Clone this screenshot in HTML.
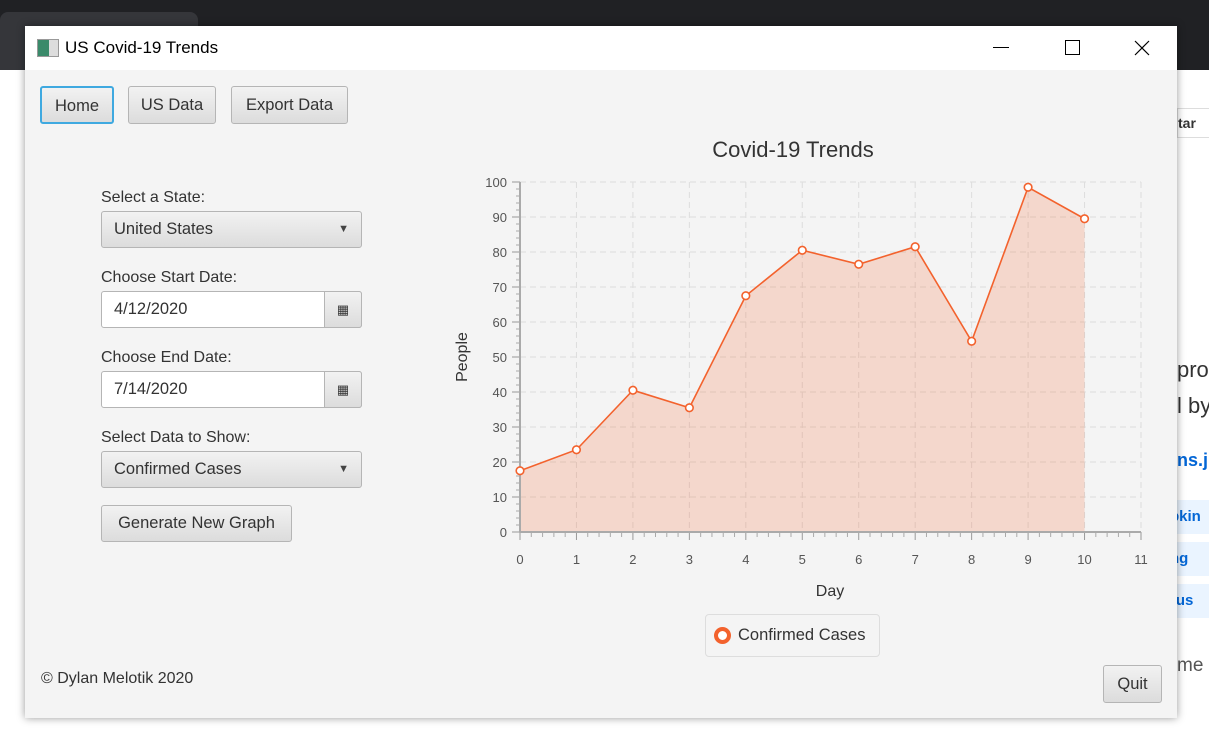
<!DOCTYPE html>
<html><head><meta charset="utf-8"><style>
body{margin:0;width:1209px;height:747px;overflow:hidden;position:relative;background:#fff;font-family:"Liberation Sans",sans-serif;}
.a{position:absolute}
.btn{position:absolute;box-sizing:border-box;border:1px solid #b5b5b5;border-radius:3px;background:linear-gradient(#f2f2f2,#dcdcdc);font-size:16.5px;color:#333;text-align:center;}
.lbl{position:absolute;font-size:16px;color:#333}
.field{position:absolute;box-sizing:border-box;border:1px solid #b5b5b5;border-radius:3px;background:#fff;font-size:16.5px;color:#333}
</style></head><body>
<div class="a" style="left:0;top:0;width:1209px;height:70px;background:#202124"></div>
<div class="a" style="left:0;top:12px;width:198px;height:58px;background:#35363a;border-radius:8px 8px 0 0"></div>
<div class="a" style="left:0;top:70px;width:1209px;height:677px;background:#fff"></div>
<div class="a" style="left:1177px;top:108px;width:32px;height:28px;border:1px solid #ddd;font-size:14px;font-weight:bold;line-height:28px;color:#333">tar</div>
<div class="a" style="left:1177px;top:352px;font-size:22px;color:#333;line-height:36px">pror<br>l by</div>
<div class="a" style="left:1177px;top:450px;font-size:18px;font-weight:bold;color:#0366d6">ns.jl</div>
<div class="a" style="left:1170px;top:500px;width:39px;height:34px;background:#eaf4ff;color:#0366d6;font-size:15px;font-weight:bold;line-height:34px">pkin</div>
<div class="a" style="left:1170px;top:542px;width:39px;height:34px;background:#eaf4ff;color:#0366d6;font-size:15px;font-weight:bold;line-height:34px">ng</div>
<div class="a" style="left:1170px;top:584px;width:39px;height:34px;background:#eaf4ff;color:#0366d6;font-size:15px;font-weight:bold;line-height:34px">rus</div>
<div class="a" style="left:1177px;top:655px;font-size:19px;color:#555">me</div>

<div class="a" style="left:25px;top:26px;width:1152px;height:692px;background:#f4f4f4;box-shadow:0 0 8px rgba(0,0,0,.4)">
 <div class="a" style="left:0;top:0;width:1152px;height:44px;background:#fff">
  <div class="a" style="left:12px;top:13px;width:20px;height:16px;border:1px solid #999;background:linear-gradient(90deg,#3a8a6a 55%,#ddd 55%)"></div>
  <div class="a" style="left:40px;top:12px;font-size:17px;color:#000">US Covid-19 Trends</div>
  <div class="a" style="left:968px;top:21px;width:16px;height:1px;background:#000"></div>
  <div class="a" style="left:1040px;top:14px;width:13px;height:13px;border:1px solid #000"></div>
  <svg class="a" style="left:1109px;top:14px" width="16" height="16"><path d="M1 1L15 15M15 1L1 15" stroke="#000" stroke-width="1.2"/></svg>
 </div>
</div>
<div class="btn" style="left:40px;top:86px;width:74px;height:38px;line-height:36px;border:2px solid #3fa9e0">Home</div>
<div class="btn" style="left:128px;top:86px;width:88px;height:38px;line-height:36px">US Data</div>
<div class="btn" style="left:231px;top:86px;width:117px;height:38px;line-height:36px">Export Data</div>

<div class="lbl" style="left:101px;top:189px">Select a State:</div>
<div class="btn" style="left:101px;top:211px;width:261px;height:37px;line-height:35px;text-align:left;padding-left:12px">United States<span style="position:absolute;right:12px;top:0;font-size:11px;color:#444">▼</span></div>
<div class="lbl" style="left:101px;top:269px">Choose Start Date:</div>
<div class="field" style="left:101px;top:291px;width:261px;height:37px;line-height:35px;padding-left:12px">4/12/2020<div class="btn" style="right:-1px;top:-1px;width:38px;height:37px;line-height:35px;font-size:13px;border-radius:0 3px 3px 0">▦</div></div>
<div class="lbl" style="left:101px;top:349px">Choose End Date:</div>
<div class="field" style="left:101px;top:371px;width:261px;height:37px;line-height:35px;padding-left:12px">7/14/2020<div class="btn" style="right:-1px;top:-1px;width:38px;height:37px;line-height:35px;font-size:13px;border-radius:0 3px 3px 0">▦</div></div>
<div class="lbl" style="left:101px;top:429px">Select Data to Show:</div>
<div class="btn" style="left:101px;top:451px;width:261px;height:37px;line-height:35px;text-align:left;padding-left:12px">Confirmed Cases<span style="position:absolute;right:12px;top:0;font-size:11px;color:#444">▼</span></div>
<div class="btn" style="left:101px;top:505px;width:191px;height:37px;line-height:35px">Generate New Graph</div>
<div class="lbl" style="left:41px;top:670px">© Dylan Melotik 2020</div>
<div class="btn" style="left:1103px;top:665px;width:59px;height:38px;line-height:36px">Quit</div>

<svg class="a" style="left:0;top:0" width="1209" height="747" id="chart"></svg>
<div class="a" style="left:705px;top:614px;width:175px;height:43px;box-sizing:border-box;border:1px solid #ddd;border-radius:4px;background:#f4f4f4"></div>
<div class="a" style="left:714px;top:627px;width:9px;height:9px;border:4px solid #f3622d;border-radius:50%;background:#fff"></div>
<div class="lbl" style="left:738px;top:626px;font-size:16.5px">Confirmed Cases</div>
<script>
const days=[0,1,2,3,4,5,6,7,8,9,10];
const cases=[17.5,23.5,40.5,35.5,67.5,80.5,76.5,81.5,54.5,98.5,89.5];
const yTicks=[0,10,20,30,40,50,60,70,80,90,100];
const xTicks=[0,1,2,3,4,5,6,7,8,9,10,11];
const X0=520,X1=1141,Y0=532,Y1=182,XMAX=11,YMAX=100;
const sx=v=>X0+(X1-X0)*v/XMAX, sy=v=>Y0-(Y0-Y1)*v/YMAX;
const svg=document.getElementById('chart');
const NS='http://www.w3.org/2000/svg';
function mk(t,a){const e=document.createElementNS(NS,t);for(const k in a)e.setAttribute(k,a[k]);svg.appendChild(e);return e;}
let e;
e=mk('text',{x:793,y:157,'font-size':22,fill:'#333','text-anchor':'middle','font-family':'Liberation Sans'});e.textContent='Covid-19 Trends';


yTicks.forEach(v=>{if(v>0){const g=mk('line',{x1:X0,x2:X1,y1:sy(v),y2:sy(v),stroke:'#ddd','stroke-dasharray':'6 4'});

}
const m=mk('line',{x1:X0-8,x2:X0,y1:sy(v),y2:sy(v),stroke:'#999'});


const t=mk('text',{x:X0-13,y:sy(v)+5,'font-size':13,fill:'#555','text-anchor':'end','font-family':'Liberation Sans'});t.textContent=v;


if(v<100)for(let k=1;k<5;k++){const mm=mk('line',{x1:X0-4,x2:X0,y1:sy(v+k*2),y2:sy(v+k*2),stroke:'#aaa'});

}});
xTicks.forEach(v=>{if(v>0){const g=mk('line',{x1:sx(v),x2:sx(v),y1:Y1,y2:Y0,stroke:'#ddd','stroke-dasharray':'6 4'});

}
const m=mk('line',{x1:sx(v),x2:sx(v),y1:Y0,y2:Y0+8,stroke:'#999'});


const t=mk('text',{x:sx(v),y:Y0+32,'font-size':13,fill:'#555','text-anchor':'middle','font-family':'Liberation Sans'});t.textContent=v;


if(v<11)for(let k=1;k<5;k++){const mm=mk('line',{x1:sx(v+k*0.2),x2:sx(v+k*0.2),y1:Y0,y2:Y0+5,stroke:'#aaa'});

}});
const pts=days.map((d,i)=>sx(d)+','+sy(cases[i]));
e=mk('polygon',{points:sx(days[0])+','+Y0+' '+pts.join(' ')+' '+sx(days[days.length-1])+','+Y0,fill:'rgba(243,98,45,0.2)'});


e=mk('polyline',{points:pts.join(' '),fill:'none',stroke:'#f3622d','stroke-width':1.6});


e=mk('line',{x1:X0,x2:X0,y1:Y1,y2:Y0,stroke:'#aaa','stroke-width':2});


e=mk('line',{x1:X0,x2:X1,y1:Y0,y2:Y0,stroke:'#aaa','stroke-width':2});


days.forEach((d,i)=>{const c=mk('circle',{cx:sx(d),cy:sy(cases[i]),r:3.8,fill:'#fff',stroke:'#f3622d','stroke-width':1.6});

});
e=mk('text',{x:830,y:596,'font-size':16,fill:'#333','text-anchor':'middle','font-family':'Liberation Sans'});e.textContent='Day';


e=mk('text',{x:0,y:0,'font-size':16,fill:'#333','text-anchor':'middle','font-family':'Liberation Sans',transform:'translate(467,357) rotate(-90)'});e.textContent='People';


</script>
</body></html>
